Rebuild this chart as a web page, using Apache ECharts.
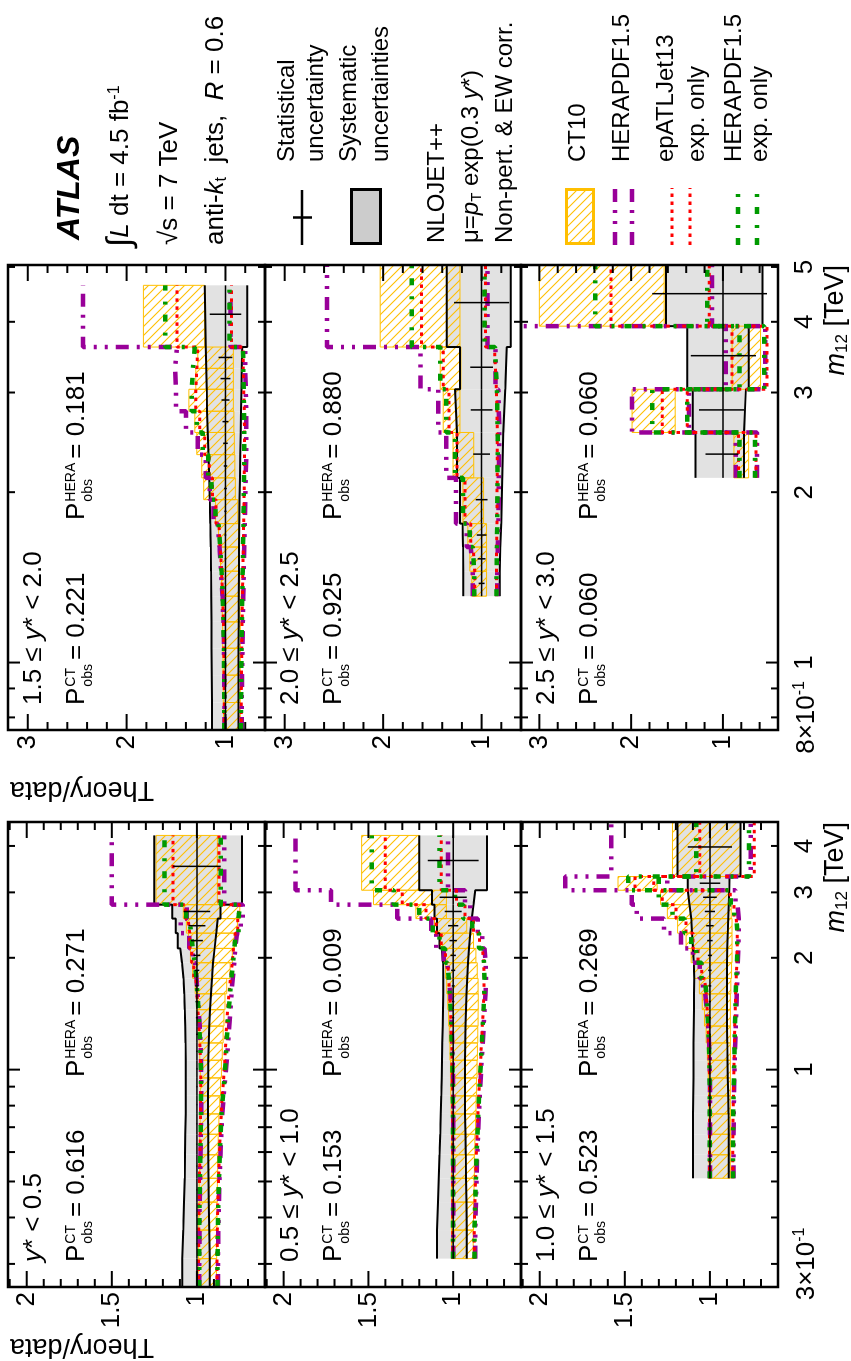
<!DOCTYPE html>
<html>
<head>
<meta charset="utf-8">
<title>ATLAS dijet mass: theory/data</title>
<script src="https://cdn.jsdelivr.net/npm/echarts@6.0.0/dist/echarts.min.js"></script>
<style>
html, body { margin:0; padding:0; background:#fff; width:851px; height:1361px; overflow:hidden; }
#chart { position:absolute; left:0; top:0; width:1361px; height:851px; transform-origin:0 0; transform:translateY(1361px) rotate(-90deg); }
</style>
</head>
<body>
<div id="chart"></div>
<script>
// ---------------- tick values ----------------
const mTicksLeft   = [0.3,0.4,0.5,0.6,0.7,0.8,0.9,1,2,3,4];
const mTicksRight  = [0.8,0.9,1,2,3,4,5];
const mLabelsLeft  = [0.3,1,2,3,4];
const mLabelsRight = [0.8,1,2,3,4,5];
const rTicksLeft   = [0.6,0.7,0.8,0.9,1,1.1,1.2,1.3,1.4,1.5,1.6,1.7,1.8,1.9,2,2.1];
const rLabelsLeft  = [1,1.5,2];
const rTicksRight  = [0.6,0.8,1,1.2,1.4,1.6,1.8,2,2.2,2.4,2.6,2.8,3,3.2];
const rTicksRight3 = [0.4,0.6,0.8,1,1.2,1.4,1.6,1.8,2,2.2,2.4,2.6,2.8,3,3.2];
const rLabelsRight = [1,2,3];

// ---------------- panel texts ----------------
const pCTValues   = ['0.616','0.153','0.523','0.221','0.925','0.060'];
const pHERAValues = ['0.271','0.009','0.269','0.181','0.880','0.060'];

// ---------------- y* < 0.5 ----------------
const L1_edges  = [0.26,0.31,0.37,0.44,0.51,0.59,0.67,0.76,0.85,0.95,1.06,1.18,1.31,1.45,1.60,1.76,1.94,2.12,2.33,2.55,2.78,4.27];
const L1_sysUp  = [1.086,1.080,1.076,1.072,1.070,1.068,1.066,1.065,1.065,1.066,1.067,1.069,1.071,1.074,1.079,1.088,1.098,1.112,1.125,1.145,1.250];
const L1_sysDn  = [0.925,0.928,0.930,0.932,0.933,0.934,0.935,0.935,0.934,0.933,0.931,0.928,0.923,0.917,0.911,0.905,0.896,0.886,0.877,0.862,0.735];
const L1_stat   = [0.002,0.002,0.002,0.002,0.002,0.002,0.002,0.002,0.003,0.003,0.004,0.005,0.006,0.008,0.010,0.014,0.020,0.035,0.050,0.078,0.140];
const L1_ct10Up = [0.992,0.990,0.989,0.987,0.985,0.983,0.981,0.980,0.980,0.980,0.983,0.987,0.995,1.002,1.010,1.025,1.038,1.050,1.062,1.080,1.240];
const L1_ct10Dn = [0.885,0.884,0.882,0.880,0.878,0.875,0.871,0.866,0.861,0.856,0.851,0.846,0.841,0.835,0.825,0.805,0.792,0.780,0.762,0.748,0.880];
const L1_heraUp = [0.986,0.985,0.984,0.981,0.979,0.977,0.975,0.975,0.975,0.976,0.979,0.984,0.990,0.996,1.002,1.012,1.025,1.045,1.095,1.060,1.500];
const L1_heraDn = [0.876,0.874,0.871,0.867,0.862,0.857,0.851,0.843,0.833,0.824,0.817,0.810,0.803,0.797,0.790,0.781,0.774,0.765,0.742,0.730,0.840];
const L1_epUp   = [0.990,0.989,0.987,0.985,0.982,0.980,0.979,0.978,0.978,0.979,0.983,0.988,0.994,1.000,1.006,1.018,1.030,1.042,1.052,1.068,1.140];
const L1_epDn   = [0.882,0.880,0.877,0.873,0.868,0.863,0.857,0.851,0.843,0.836,0.831,0.826,0.820,0.812,0.803,0.792,0.785,0.775,0.760,0.750,0.870];
const L1_hexUp  = [0.987,0.986,0.985,0.982,0.980,0.978,0.976,0.976,0.976,0.977,0.981,0.986,0.991,0.997,1.003,1.013,1.024,1.034,1.045,1.062,1.190];
const L1_hexDn  = [0.879,0.877,0.874,0.870,0.866,0.861,0.855,0.847,0.838,0.831,0.826,0.820,0.813,0.805,0.797,0.788,0.781,0.771,0.756,0.746,0.860];

// ---------------- 0.5 <= y* < 1.0 ----------------
const L2_edges  = [0.31,0.37,0.44,0.51,0.59,0.67,0.76,0.85,0.95,1.06,1.18,1.31,1.45,1.60,1.76,1.94,2.12,2.33,2.55,2.78,3.04,4.27];
const L2_sysUp  = [1.095,1.090,1.085,1.080,1.076,1.073,1.070,1.068,1.066,1.064,1.062,1.060,1.058,1.058,1.060,1.068,1.080,1.095,1.110,1.125,1.200];
const L2_sysDn  = [0.920,0.922,0.924,0.926,0.928,0.930,0.930,0.930,0.930,0.929,0.927,0.924,0.921,0.917,0.912,0.906,0.899,0.890,0.880,0.870,0.800];
const L2_stat   = [0.002,0.002,0.002,0.002,0.002,0.002,0.003,0.003,0.003,0.004,0.005,0.006,0.007,0.009,0.012,0.016,0.022,0.030,0.050,0.080,0.150];
const L2_ct10Up = [1.010,1.010,1.010,1.010,1.010,1.010,1.012,1.014,1.016,1.019,1.023,1.027,1.032,1.038,1.045,1.058,1.075,1.110,1.220,1.470,1.540];
const L2_ct10Dn = [0.882,0.880,0.877,0.875,0.872,0.868,0.865,0.862,0.859,0.857,0.855,0.853,0.852,0.853,0.858,0.866,0.880,0.920,1.040,1.040,1.200];
const L2_heraUp = [1.000,1.000,1.000,1.000,1.000,1.000,1.000,1.001,1.003,1.006,1.009,1.013,1.018,1.025,1.035,1.055,1.100,1.130,1.330,1.720,1.930];
const L2_heraDn = [0.870,0.866,0.862,0.858,0.853,0.848,0.843,0.838,0.832,0.826,0.820,0.815,0.810,0.806,0.808,0.815,0.828,0.855,0.900,0.930,1.030];
const L2_epUp   = [1.002,1.002,1.002,1.002,1.002,1.002,1.003,1.004,1.006,1.009,1.012,1.016,1.020,1.026,1.033,1.045,1.070,1.100,1.160,1.300,1.400];
const L2_epDn   = [0.876,0.872,0.868,0.864,0.859,0.854,0.849,0.844,0.838,0.833,0.828,0.823,0.819,0.817,0.820,0.828,0.845,0.880,0.930,0.980,1.070];
const L2_hexUp  = [1.001,1.001,1.001,1.001,1.001,1.001,1.002,1.003,1.005,1.008,1.011,1.015,1.020,1.026,1.034,1.048,1.080,1.120,1.200,1.350,1.480];
const L2_hexDn  = [0.874,0.870,0.866,0.862,0.857,0.852,0.847,0.842,0.836,0.831,0.826,0.821,0.817,0.815,0.818,0.826,0.848,0.888,0.940,0.990,1.080];

// ---------------- 1.0 <= y* < 1.5 ----------------
const L3_edges  = [0.51,0.59,0.67,0.76,0.85,0.95,1.06,1.18,1.31,1.45,1.60,1.76,1.94,2.12,2.33,2.55,2.78,3.04,3.31,4.64];
const L3_sysUp  = [1.100,1.100,1.099,1.098,1.097,1.097,1.096,1.095,1.094,1.093,1.092,1.095,1.100,1.105,1.110,1.120,1.130,1.130,1.190];
const L3_sysDn  = [0.890,0.890,0.891,0.893,0.895,0.897,0.898,0.899,0.900,0.900,0.900,0.899,0.898,0.895,0.893,0.890,0.887,0.885,0.820];
const L3_stat   = [0.002,0.002,0.002,0.003,0.003,0.003,0.004,0.004,0.005,0.006,0.008,0.010,0.012,0.016,0.022,0.030,0.040,0.060,0.130];
const L3_ct10Up = [1.005,1.005,1.005,1.006,1.008,1.010,1.015,1.022,1.032,1.045,1.062,1.090,1.110,1.140,1.190,1.250,1.290,1.540,1.220];
const L3_ct10Dn = [0.880,0.880,0.880,0.880,0.880,0.880,0.880,0.880,0.880,0.880,0.877,0.873,0.870,0.870,0.870,0.875,0.890,1.310,0.820];
const L3_heraUp = [1.000,1.000,1.000,1.000,1.000,1.001,1.005,1.010,1.018,1.028,1.040,1.060,1.100,1.170,1.270,1.430,1.460,1.850,1.580];
const L3_heraDn = [0.862,0.861,0.860,0.859,0.857,0.854,0.851,0.848,0.845,0.842,0.839,0.836,0.833,0.831,0.831,0.838,0.850,1.250,0.760];
const L3_epUp   = [1.002,1.002,1.002,1.002,1.003,1.004,1.007,1.011,1.016,1.022,1.031,1.048,1.070,1.100,1.140,1.200,1.280,1.440,1.060];
const L3_epDn   = [0.866,0.865,0.864,0.862,0.860,0.858,0.856,0.854,0.851,0.849,0.846,0.842,0.840,0.840,0.845,0.858,0.880,1.330,0.740];
const L3_hexUp  = [1.001,1.001,1.001,1.001,1.002,1.003,1.006,1.010,1.015,1.021,1.030,1.050,1.080,1.110,1.150,1.220,1.300,1.480,1.080];
const L3_hexDn  = [0.865,0.864,0.863,0.861,0.859,0.857,0.855,0.853,0.850,0.848,0.845,0.841,0.839,0.839,0.844,0.857,0.878,1.300,0.770];

// ---------------- 1.5 <= y* < 2.0 ----------------
const R1_edges  = [0.76,0.85,0.95,1.06,1.18,1.31,1.45,1.60,1.76,1.94,2.12,2.33,2.55,2.78,3.04,3.31,3.61,4.64];
const R1_sysUp  = [1.135,1.138,1.140,1.142,1.144,1.146,1.149,1.153,1.158,1.165,1.172,1.180,1.186,1.190,1.195,1.200,1.210];
const R1_sysDn  = [0.868,0.868,0.867,0.866,0.865,0.864,0.862,0.860,0.857,0.854,0.850,0.846,0.842,0.838,0.834,0.830,0.780];
const R1_stat   = [0.003,0.003,0.004,0.004,0.005,0.006,0.007,0.009,0.011,0.014,0.018,0.023,0.030,0.040,0.050,0.070,0.160];
const R1_ct10Up = [1.020,1.022,1.025,1.028,1.032,1.040,1.050,1.070,1.100,1.220,1.240,1.290,1.310,1.370,1.300,1.280,1.830];
const R1_ct10Dn = [0.850,0.850,0.850,0.850,0.852,0.855,0.860,0.866,0.875,0.900,0.905,0.910,0.915,0.920,0.920,0.920,1.210];
const R1_heraUp = [1.010,1.012,1.015,1.020,1.030,1.045,1.060,1.080,1.120,1.160,1.200,1.280,1.400,1.500,1.510,1.490,2.440];
const R1_heraDn = [0.835,0.832,0.828,0.824,0.820,0.815,0.810,0.805,0.800,0.795,0.790,0.790,0.790,0.795,0.800,0.800,0.950];
const R1_epUp   = [1.012,1.014,1.017,1.021,1.028,1.040,1.052,1.068,1.095,1.130,1.165,1.210,1.260,1.300,1.290,1.280,1.490];
const R1_epDn   = [0.840,0.838,0.835,0.832,0.828,0.824,0.820,0.816,0.812,0.810,0.808,0.808,0.810,0.815,0.820,0.820,0.940];
const R1_hexUp  = [1.011,1.013,1.016,1.020,1.027,1.040,1.053,1.070,1.100,1.140,1.175,1.230,1.290,1.340,1.330,1.310,1.610];
const R1_hexDn  = [0.842,0.840,0.837,0.834,0.830,0.826,0.822,0.818,0.815,0.812,0.810,0.810,0.812,0.816,0.820,0.822,0.960];

// ---------------- 2.0 <= y* < 2.5 ----------------
const R2_edges  = [1.31,1.45,1.60,1.76,2.12,2.55,3.04,3.61,5.04];
const R2_sysUp  = [1.186,1.190,1.195,1.220,1.250,1.270,1.220,1.355];
const R2_sysDn  = [0.815,0.810,0.800,0.790,0.780,0.760,0.745,0.705];
const R2_stat   = [0.030,0.040,0.050,0.060,0.085,0.110,0.115,0.280];
const R2_ct10Up = [1.100,1.120,1.140,1.190,1.290,1.390,1.420,2.030];
const R2_ct10Dn = [0.950,0.950,0.950,0.980,1.080,1.220,1.210,1.220];
const R2_heraUp = [1.090,1.110,1.150,1.260,1.360,1.440,1.620,2.570];
const R2_heraDn = [0.840,0.835,0.830,0.825,0.820,0.830,0.860,0.940];
const R2_epUp   = [1.070,1.085,1.110,1.170,1.250,1.330,1.390,1.610];
const R2_epDn   = [0.850,0.848,0.845,0.842,0.840,0.850,0.870,0.960];
const R2_hexUp  = [1.075,1.090,1.120,1.190,1.270,1.360,1.420,1.710];
const R2_hexDn  = [0.848,0.845,0.842,0.838,0.836,0.845,0.865,0.970];

// ---------------- 2.5 <= y* < 3.0 ----------------
const R3_edges  = [2.12,2.55,3.04,3.93,5.04];
const R3_sysUp  = [1.300,1.330,1.390,1.620];
const R3_sysDn  = [0.770,0.750,0.720,0.570];
const R3_statUp = [0.19,0.26,0.35,0.77];
const R3_statDn = [0.17,0.23,0.36,0.48];
const R3_ct10Up = [0.880,1.990,0.900,3.000];
const R3_ct10Dn = [0.720,1.520,0.590,1.640];
const R3_heraUp = [0.860,1.990,0.970,3.400];
const R3_heraDn = [0.630,1.370,0.540,1.120];
const R3_epUp   = [0.830,1.660,0.900,2.220];
const R3_epDn   = [0.640,1.390,0.520,1.150];
const R3_hexUp  = [0.820,1.770,0.820,2.390];
const R3_hexDn  = [0.650,1.390,0.550,1.170];

// ======================================================================
const FONT = '"Liberation Sans", Arial, Helvetica, sans-serif';
const C_CT10 = '#ffbf00', C_HERA = '#990099', C_EP = '#ff0000', C_HEX = '#009a00', C_SYS = '#e2e2e2';
const DASH_HERA = [13,8,3,8,3,8], DASH_EP = [3.5,4.5], DASH_HEX = [7,10,3,11];

function makeHatch() {
  const s = 9, c = document.createElement('canvas');
  c.width = s; c.height = s;
  const g = c.getContext('2d');
  g.strokeStyle = C_CT10; g.lineWidth = 1.1;
  g.beginPath();
  g.moveTo(-1,-1); g.lineTo(s+1,s+1);
  g.moveTo(-1,s-1); g.lineTo(1,s+1);
  g.moveTo(s-1,-1); g.lineTo(s+1,1);
  g.stroke();
  return c;
}
const HATCH = { image: makeHatch(), repeat: 'repeat' };

const COLS = [
  { left:74,  width:465, mMin:0.26, mMax:4.64, mTicks:mTicksLeft,  mLabels:mLabelsLeft },
  { left:631, width:465, mMin:0.76, mMax:5.04, mTicks:mTicksRight, mLabels:mLabelsRight }
];
const ROWS = [ {top:8, height:257}, {top:265, height:256}, {top:521, height:257} ];

const PANELS = [
  {c:0, r:0, rMin:0.6, rMax:2.11, rTicks:rTicksLeft, rLabels:rLabelsLeft, rMajor:rLabelsLeft,
   label:'{i|y}{n|* < 0.5}', edges:L1_edges, sysUp:L1_sysUp, sysDn:L1_sysDn, statUp:L1_stat, statDn:L1_stat,
   ct10Up:L1_ct10Up, ct10Dn:L1_ct10Dn, heraUp:L1_heraUp, heraDn:L1_heraDn, epUp:L1_epUp, epDn:L1_epDn, hexUp:L1_hexUp, hexDn:L1_hexDn},
  {c:0, r:1, rMin:0.6, rMax:2.11, rTicks:rTicksLeft, rLabels:rLabelsLeft, rMajor:rLabelsLeft,
   label:'{n|0.5 ≤ }{i|y}{n|* < 1.0}', edges:L2_edges, sysUp:L2_sysUp, sysDn:L2_sysDn, statUp:L2_stat, statDn:L2_stat,
   ct10Up:L2_ct10Up, ct10Dn:L2_ct10Dn, heraUp:L2_heraUp, heraDn:L2_heraDn, epUp:L2_epUp, epDn:L2_epDn, hexUp:L2_hexUp, hexDn:L2_hexDn},
  {c:0, r:2, rMin:0.6, rMax:2.11, rTicks:rTicksLeft, rLabels:rLabelsLeft, rMajor:rLabelsLeft,
   label:'{n|1.0 ≤ }{i|y}{n|* < 1.5}', edges:L3_edges, sysUp:L3_sysUp, sysDn:L3_sysDn, statUp:L3_stat, statDn:L3_stat,
   ct10Up:L3_ct10Up, ct10Dn:L3_ct10Dn, heraUp:L3_heraUp, heraDn:L3_heraDn, epUp:L3_epUp, epDn:L3_epDn, hexUp:L3_hexUp, hexDn:L3_hexDn},
  {c:1, r:0, rMin:0.6, rMax:3.2, rTicks:rTicksRight, rLabels:rLabelsRight, rMajor:rLabelsRight,
   label:'{n|1.5 ≤ }{i|y}{n|* < 2.0}', edges:R1_edges, sysUp:R1_sysUp, sysDn:R1_sysDn, statUp:R1_stat, statDn:R1_stat,
   ct10Up:R1_ct10Up, ct10Dn:R1_ct10Dn, heraUp:R1_heraUp, heraDn:R1_heraDn, epUp:R1_epUp, epDn:R1_epDn, hexUp:R1_hexUp, hexDn:R1_hexDn},
  {c:1, r:1, rMin:0.6, rMax:3.2, rTicks:rTicksRight, rLabels:rLabelsRight, rMajor:rLabelsRight,
   label:'{n|2.0 ≤ }{i|y}{n|* < 2.5}', edges:R2_edges, sysUp:R2_sysUp, sysDn:R2_sysDn, statUp:R2_stat, statDn:R2_stat,
   ct10Up:R2_ct10Up, ct10Dn:R2_ct10Dn, heraUp:R2_heraUp, heraDn:R2_heraDn, epUp:R2_epUp, epDn:R2_epDn, hexUp:R2_hexUp, hexDn:R2_hexDn},
  {c:1, r:2, rMin:0.4, rMax:3.2, rTicks:rTicksRight3, rLabels:rLabelsRight, rMajor:rLabelsRight,
   label:'{n|2.5 ≤ }{i|y}{n|* < 3.0}', edges:R3_edges, sysUp:R3_sysUp, sysDn:R3_sysDn, statUp:R3_statUp, statDn:R3_statDn,
   ct10Up:R3_ct10Up, ct10Dn:R3_ct10Dn, heraUp:R3_heraUp, heraDn:R3_heraDn, epUp:R3_epUp, epDn:R3_epDn, hexUp:R3_hexUp, hexDn:R3_hexDn}
];

// -------- helpers building library data from the arrays --------
function boxes(edges, lo, hi) { return lo.map((v, i) => [edges[i], edges[i+1], lo[i], hi[i]]); }
function steps(edges, vals) {
  const d = vals.map((v, i) => [edges[i], v]);
  d.push([edges[edges.length-1], vals[vals.length-1]]);
  return d;
}
function boxRenderer(style) {
  return function (params, api) {
    const a = api.coord([api.value(0), api.value(3)]);
    const b = api.coord([api.value(1), api.value(2)]);
    return { type:'rect', shape:{ x:a[0], y:a[1], width:b[0]-a[0], height:b[1]-a[1] }, style: style };
  };
}
function dataRenderer(params, api) {
  const lo = api.value(0), hi = api.value(1), dn = api.value(2), up = api.value(3);
  const c = (lo + hi) / 2;
  const a = api.coord([lo, 1]), b = api.coord([hi, 1]);
  const e1 = api.coord([c, 1 - dn]), e2 = api.coord([c, 1 + up]);
  return { type:'group', children:[
    { type:'line', shape:{x1:a[0], y1:a[1], x2:b[0], y2:b[1]}, style:{stroke:'#000', lineWidth:1.5} },
    { type:'line', shape:{x1:e1[0], y1:e1[1], x2:e2[0], y2:e2[1]}, style:{stroke:'#000', lineWidth:1.5} }
  ]};
}
function frameRenderer(P, C) {
  return function (params, api) {
    const ch = [];
    const tl = api.coord([C.mMin, P.rMax]), br = api.coord([C.mMax, P.rMin]);
    const L = (x1, y1, x2, y2) => ch.push({ type:'line', shape:{x1, y1, x2, y2}, style:{stroke:'#000', lineWidth:2} });
    C.mTicks.forEach(m => {
      const len = (m === 1) ? 12 : 7;
      const x = api.coord([m, P.rMin])[0];
      L(x, br[1], x, br[1] - len); L(x, tl[1], x, tl[1] + len);
    });
    P.rTicks.forEach(r => {
      const len = P.rMajor.indexOf(r) >= 0 ? 16 : 8;
      const y = api.coord([C.mMin, r])[1];
      L(tl[0], y, tl[0] + len, y); L(br[0], y, br[0] - len, y);
    });
    ch.push({ type:'rect', shape:{x:tl[0], y:tl[1], width:br[0]-tl[0], height:br[1]-tl[1]}, style:{fill:'none', stroke:'#000', lineWidth:2.5} });
    return { type:'group', children: ch };
  };
}
function mLabel(v) {
  if (v < 1) return '{n|' + Math.round(v * 10) + '×10}{s|-1}';
  return '{n|' + Math.round(v) + '}';
}

const grids = [], xAxes = [], yAxes = [], series = [];
PANELS.forEach((P, gi) => {
  const C = COLS[P.c], R = ROWS[P.r];
  const bottom = (P.r === 2);
  grids.push({ left:C.left, top:R.top, width:C.width, height:R.height, show:false, containLabel:false, outerBoundsMode:'none' });
  xAxes.push({
    type:'log', logBase:10, gridIndex:gi, min:C.mMin, max:C.mMax,
    axisLine:{show:false}, axisTick:{show:false}, splitLine:{show:false}, minorTick:{show:false}, minorSplitLine:{show:false},
    axisLabel: bottom ? {
      show:true, customValues:C.mLabels, margin:14, color:'#000', fontSize:26, fontFamily:FONT,
      formatter: mLabel,
      rich:{ n:{fontSize:26, fontFamily:FONT, color:'#000'}, s:{fontSize:16, fontFamily:FONT, color:'#000', padding:[0,0,13,0]} }
    } : {show:false}
  });
  yAxes.push({
    type:'value', gridIndex:gi, min:P.rMin, max:P.rMax,
    axisLine:{show:false}, axisTick:{show:false}, splitLine:{show:false},
    axisLabel:{ show:true, customValues:P.rLabels, margin:5, color:'#000', fontSize:26, fontFamily:FONT, formatter: v => String(v) }
  });
  const common = { xAxisIndex:gi, yAxisIndex:gi, silent:true, animation:false };
  series.push(Object.assign({ type:'custom', z:2, clip:true, encode:{x:[0,1], y:[2,3]},
    data: boxes(P.edges, P.sysDn, P.sysUp), renderItem: boxRenderer({fill:C_SYS}) }, common));
  series.push(Object.assign({ type:'custom', z:3, clip:true, encode:{x:[0,1], y:[2,3]},
    data: boxes(P.edges, P.ct10Dn, P.ct10Up), renderItem: boxRenderer({fill:HATCH, stroke:C_CT10, lineWidth:1}) }, common));
  ['sysUp','sysDn'].forEach(k => series.push(Object.assign({ type:'line', z:4, step:'end', symbol:'none', clip:true,
    data: steps(P.edges, P[k]), lineStyle:{color:'#000', width:2} }, common)));
  [['hera', C_HERA, 4.5, DASH_HERA], ['ep', C_EP, 3, DASH_EP], ['hex', C_HEX, 4.5, DASH_HEX]].forEach((t, ti) => {
    ['Up','Dn'].forEach(s => series.push(Object.assign({ type:'line', z:5 + ti, step:'end', symbol:'none', clip:true,
      data: steps(P.edges, P[t[0] + s]), lineStyle:{color:t[1], width:t[2], type:t[3]} }, common)));
  });
  const pts = P.edges.slice(0, -1).map((e, i) => [e, P.edges[i+1], P.statDn[i], P.statUp[i]]);
  series.push(Object.assign({ type:'custom', z:9, clip:true, encode:{x:[0,1], y:[2,3]}, data: pts, renderItem: dataRenderer }, common));
  series.push(Object.assign({ type:'custom', z:10, clip:false, encode:{x:0, y:1}, data: [[C.mMin, P.rMin]], renderItem: frameRenderer(P, C) }, common));
});

// -------- texts (graphic) --------
const mctx = document.createElement('canvas').getContext('2d');
function tw(s, size, style) { mctx.font = (style || '') + ' ' + size + 'px ' + FONT; return mctx.measureText(s).width; }
function txt(x, y, text, size, o) {
  o = o || {};
  return { type:'text', x:x, y:y, rotation:o.rotation || 0, silent:true, z:100,
    style:{ text:text, fill:'#000', fontSize:size, fontFamily:FONT, fontStyle:o.fontStyle || 'normal', fontWeight:o.fontWeight || 'normal',
            align:o.align || 'left', verticalAlign:o.verticalAlign || 'middle', rich:o.rich } };
}
function line(x1, y1, x2, y2, stroke, w, dash) {
  return { type:'line', silent:true, z:100, shape:{x1, y1, x2, y2}, style:{ stroke:stroke, lineWidth:w, lineDash:dash || null } };
}
const RICH26 = {
  n:{fontSize:26, fontFamily:FONT}, i:{fontSize:26, fontFamily:FONT, fontStyle:'italic'},
  sub:{fontSize:16, fontFamily:FONT, padding:[12,0,0,0]}, sup:{fontSize:16, fontFamily:FONT, padding:[0,0,13,0]},
  int:{fontSize:34, fontFamily:FONT}
};
const RICH24 = {
  n:{fontSize:24, fontFamily:FONT}, i:{fontSize:24, fontFamily:FONT, fontStyle:'italic'},
  sub:{fontSize:15, fontFamily:FONT, padding:[11,0,0,0]}
};
function pText(x, yc, tag, val) {
  const wP = tw('P', 26), wS = Math.max(tw(tag, 14), tw('obs', 14));
  const xs = x + wP + 1;
  return [
    txt(x, yc, 'P', 26),
    txt(xs, yc - 6, tag, 14),
    txt(xs, yc + 11, 'obs', 14),
    txt(xs + wS + 4, yc, '= ' + val, 26)
  ];
}

const G = [];
PANELS.forEach((P, gi) => {
  const C = COLS[P.c], R = ROWS[P.r];
  G.push(txt(C.left + 25, R.top + 26, P.label, 26, {rich:RICH26}));
  pText(C.left + 25, R.top + 69, 'CT', pCTValues[gi]).forEach(e => G.push(e));
  pText(C.left + 210, R.top + 69, 'HERA', pHERAValues[gi]).forEach(e => G.push(e));
});
// axis titles
const M_RICH = { mi:{fontSize:27, fontFamily:FONT, fontStyle:'italic'}, ms:{fontSize:17, fontFamily:FONT, padding:[12,0,0,0]}, n:{fontSize:27, fontFamily:FONT} };
G.push(txt(539, 836, '{mi|m}{ms|12}{n| [TeV]}', 27, {align:'right', rich:M_RICH}));
G.push(txt(1096, 836, '{mi|m}{ms|12}{n| [TeV]}', 27, {align:'right', rich:M_RICH}));
G.push(txt(15, 10, 'Theory/data', 27, {rotation:Math.PI/2, align:'right'}));
G.push(txt(572, 10, 'Theory/data', 27, {rotation:Math.PI/2, align:'right'}));

// legend block
G.push(txt(1121, 70, 'ATLAS', 32, {fontWeight:'bold', fontStyle:'italic'}));
G.push(txt(1114, 121, '{int|∫}{i|L}{n| dt = 4.5 fb}{sup|-1}', 26, {rich:RICH26}));
G.push(txt(1116, 170, '{n|√s = 7 TeV}', 26, {rich:RICH26}));
G.push(txt(1116, 216, '{n|anti-}{i|k}{sub|t}{n|  jets,  }{i|R}{n| = 0.6}', 26, {rich:RICH26}));

G.push(line(1116, 302, 1171, 302, '#000', 2.5));
G.push(line(1143.5, 293, 1143.5, 312, '#000', 2.5));
G.push(txt(1199, 287, 'Statistical', 24));
G.push(txt(1199, 316, 'uncertainty', 24));
G.push({ type:'rect', silent:true, z:100, shape:{x:1117.5, y:351.5, width:54, height:29}, style:{fill:'#cccccc', stroke:'#000', lineWidth:3} });
G.push(txt(1199, 349, 'Systematic', 24));
G.push(txt(1199, 381, 'uncertainties', 24));

G.push(txt(1118, 437, 'NLOJET++', 24));
G.push(txt(1118, 471, '{n|μ=}{i|p}{sub|T}{n| exp(0.3 }{i|y}{n|*)}', 24, {rich:RICH24}));
G.push(txt(1118, 505, 'Non-pert. & EW corr.', 24));

G.push({ type:'rect', silent:true, z:100, shape:{x:1117.5, y:566.5, width:54, height:27}, style:{fill:HATCH, stroke:C_CT10, lineWidth:3} });
G.push(txt(1199, 578, 'CT10', 24));
G.push(line(1116, 615, 1173, 615, C_HERA, 4.5, DASH_HERA));
G.push(line(1116, 632, 1173, 632, C_HERA, 4.5, DASH_HERA));
G.push(txt(1199, 622, 'HERAPDF1.5', 24));
G.push(line(1116, 672, 1173, 672, C_EP, 3, DASH_EP));
G.push(line(1116, 690, 1173, 690, C_EP, 3, DASH_EP));
G.push(txt(1199, 666, 'epATLJet13', 24));
G.push(txt(1199, 697, 'exp. only', 24));
G.push(line(1116, 738, 1173, 738, C_HEX, 4.5, DASH_HEX));
G.push(line(1116, 757, 1173, 757, C_HEX, 4.5, DASH_HEX));
G.push(txt(1199, 734, 'HERAPDF1.5', 24));
G.push(txt(1199, 760, 'exp. only', 24));

const chart = echarts.init(document.getElementById('chart'), null, { renderer:'canvas', width:1361, height:851 });
chart.setOption({
  animation:false,
  backgroundColor:'#fff',
  grid: grids, xAxis: xAxes, yAxis: yAxes, series: series,
  graphic: { elements: G }
});
</script>
</body>
</html>
